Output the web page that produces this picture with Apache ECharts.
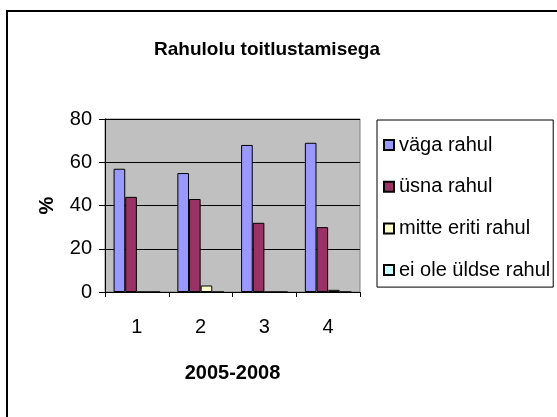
<!DOCTYPE html>
<html>
<head>
<meta charset="utf-8">
<script src="https://cdn.jsdelivr.net/npm/echarts@6/dist/echarts.min.js"></script>
<style>
  html, body { margin: 0; padding: 0; background: #fff; }
  #chart { width: 557px; height: 417px; }
</style>
</head>
<body>
<div id="chart"></div>
<script>
var categories = ['1', '2', '3', '4'];
var vagaRahul = [57, 55, 68, 69];
var usnaRahul = [44, 43, 32, 30];
var mitteEriti = [0, 3, 0, 1];
var eiOleUldse = [0, 0, 0, 0];

var seriesNames = ['väga rahul', 'üsna rahul', 'mitte eriti rahul', 'ei ole üldse rahul'];
var seriesColors = ['#9999FF', '#993366', '#FFFFCC', '#CCFFFF'];
var seriesValues = [vagaRahul, usnaRahul, mitteEriti, eiOleUldse];

var font = 'Liberation Sans, Arial, sans-serif';

var mychart = echarts.init(document.getElementById('chart'));

var series = [];
for (var i = 0; i < seriesNames.length; i++) {
    series.push({
        name: seriesNames[i],
        type: 'bar',
        data: seriesValues[i],
        barGap: '0%',
        barCategoryGap: '27%',
        itemStyle: {
            color: seriesColors[i],
            borderColor: '#000',
            borderWidth: 1
        }
    });
}

mychart.setOption({
    animation: false,
    backgroundColor: '#fff',
    graphic: [{
        type: 'rect',
        shape: { x: 7, y: 11, width: 620, height: 450 },
        style: { fill: 'none', stroke: '#000', lineWidth: 2 }
    }],
    title: {
        text: 'Rahulolu toitlustamisega',
        left: 262,
        textAlign: 'center',
        top: 35,
        textStyle: { fontFamily: font, fontSize: 19, fontWeight: 'bold', color: '#000' }
    },
    legend: {
        orient: 'vertical',
        left: 377,
        top: 120,
        padding: [15, 3, 7, 6],
        itemGap: 21.7,
        itemWidth: 10,
        itemHeight: 10,
        icon: 'rect',
        borderColor: '#000',
        borderWidth: 1,
        textStyle: { fontFamily: font, fontSize: 20, color: '#000' },
        data: seriesNames
    },
    grid: {
        left: 105,
        top: 119,
        width: 255,
        height: 173,
        show: true,
        backgroundColor: '#C0C0C0',
        borderColor: '#808080',
        borderWidth: 1
    },
    xAxis: {
        type: 'category',
        data: categories,
        name: '2005-2008',
        nameLocation: 'middle',
        nameGap: 71,
        nameTextStyle: { fontFamily: font, fontSize: 20, fontWeight: 'bold', color: '#000' },
        axisLine: { lineStyle: { color: '#000', width: 1 } },
        axisTick: { show: true, length: 5, lineStyle: { color: '#000' } },
        axisLabel: { fontFamily: font, fontSize: 20, color: '#000', margin: 25 }
    },
    yAxis: {
        type: 'value',
        min: 0,
        max: 80,
        interval: 20,
        name: '%',
        nameLocation: 'middle',
        nameGap: 48,
        nameTextStyle: { fontFamily: font, fontSize: 20, fontWeight: 'bold', color: '#000' },
        axisLine: { show: true, lineStyle: { color: '#000', width: 1 } },
        axisTick: { show: true, length: 6, lineStyle: { color: '#000' } },
        axisLabel: { fontFamily: font, fontSize: 20, color: '#000', margin: 13 },
        splitLine: { lineStyle: { color: '#000', width: 1 } }
    },
    series: series
});
</script>
</body>
</html>
